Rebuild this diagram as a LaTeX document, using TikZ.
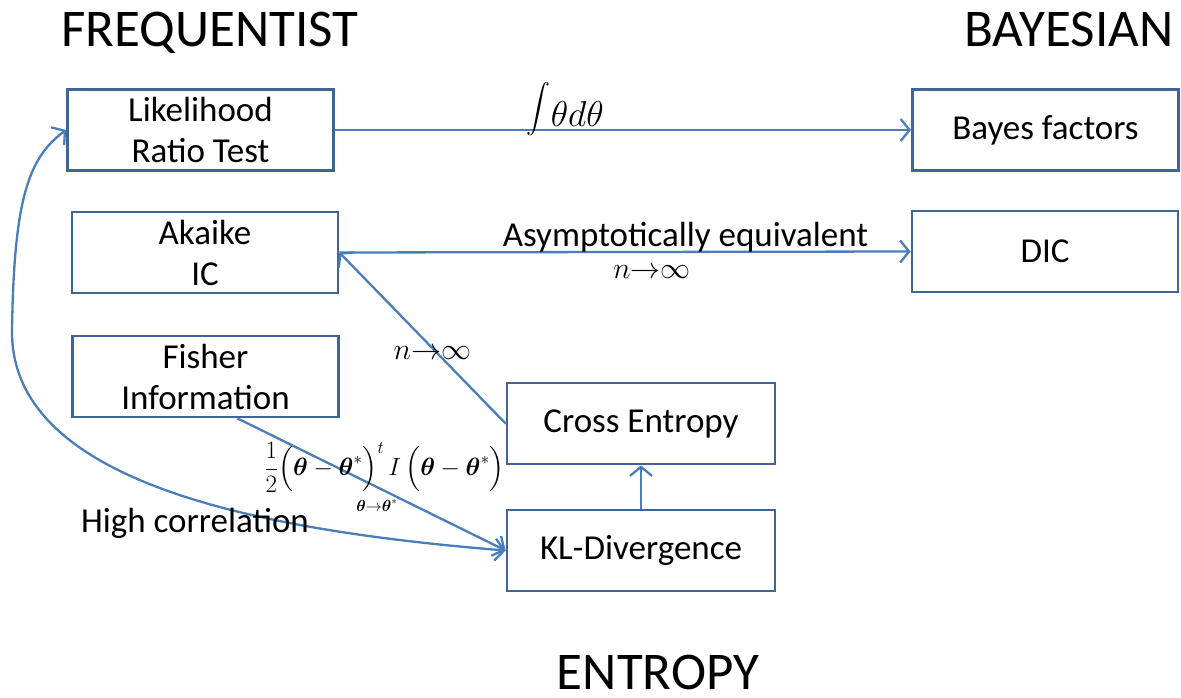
\RequirePackage{fix-cm}
\documentclass[tikz,border=0pt]{standalone}
\usepackage{amsmath,amssymb}
\usepackage[no-math]{fontspec}
\setmainfont{Carlito}
\usetikzlibrary{arrows.meta}
\definecolor{boxblue}{HTML}{3F6496}
\definecolor{linkblue}{HTML}{4A7EBB}

\begin{document}
\begin{tikzpicture}[x=1pt,y=-1pt,
    >={Straight Barb[length=9pt,width=22pt]},
    box/.style={draw=boxblue,line width=2.8pt,minimum width=266pt,minimum height=81pt,inner sep=0pt,align=center,font=\fontsize{35}{41}\selectfont},
    title/.style={font=\fontsize{53}{60}\selectfont,inner sep=0pt,anchor=base},
    link/.style={draw=linkblue,line width=2.3pt},
    lbl/.style={font=\fontsize{35}{40}\selectfont,inner sep=0pt},
    mlbl/.style={font=\fontsize{30}{36}\selectfont,inner sep=0pt}]
    \useasboundingbox (0,0) rectangle (1181,698);

    \node[title] (freqtitle) at (210,47) {FREQUENTIST};
    \node[title] (bayestitle) at (1069,47) {BAYESIAN};
    \node[title] (entropytitle) at (658,689) {ENTROPY};

    \node[box] (lrt) at (200.5,130) {Likelihood\\Ratio Test};
    \node[box] (bf) at (1045.5,130) {Bayes factors};
    \node[box] (akaike) at (205,252.5) {Akaike\\IC};
    \node[box] (dic) at (1045,251.5) {DIC};
    \node[box] (fisher) at (205.5,376.5) {Fisher\\Information};
    \node[box,minimum width=268pt] (cross) at (641,423.5) {Cross Entropy};
    \node[box,minimum width=268pt] (kl) at (641,550.5) {KL-Divergence};

    \draw[link,->] (lrt) -- node[pos=0.4,anchor=base,yshift=3pt,inner sep=0pt,font=\fontsize{36}{40}\selectfont] (intlbl)
        {{\fontsize{24}{28}\selectfont\raisebox{12pt}{$\displaystyle\int$}}$\theta d\theta$} (bf);
    \draw[link,->] (akaike.east) -- node[lbl,pos=0.606,anchor=base,yshift=5pt] (asylbl) {Asymptotically equivalent}
        node[mlbl,pos=0.547,yshift=-20pt] (asyn) {$n{\rightarrow}\infty$} (dic.west);
    \draw[link,->] (cross.west) -- node[mlbl,pos=0.41,xshift=-5pt] (crossn) {$n{\rightarrow}\infty$} (akaike.east);
    \draw[link,->] (kl) -- (cross);
    \draw[link,->] ([xshift=32pt]fisher.south) --
        node[pos=0.53,yshift=21pt,xshift=5pt,inner sep=0pt,font=\fontsize{25}{30}\selectfont] (quadlbl)
            {$\dfrac{1}{2}\Bigl(\boldsymbol{\theta}-\boldsymbol{\theta}^{*}\Bigr)^{t}\,I\,\Bigl(\boldsymbol{\theta}-\boldsymbol{\theta}^{*}\Bigr)$}
        node[pos=0.52,yshift=-18pt,inner sep=0pt,font=\fontsize{16}{20}\selectfont] (limlbl)
            {$\boldsymbol{\theta}{\rightarrow}\boldsymbol{\theta}^{*}$} (kl.west);
    \draw[link,<->] (kl.west) .. controls (250,530) and (10,480) .. (12,330)
        .. controls (14,200) and (28,158) .. (lrt.west);
    \node[lbl] (hclbl) at (195,523) {High correlation};
\end{tikzpicture}
\end{document}
